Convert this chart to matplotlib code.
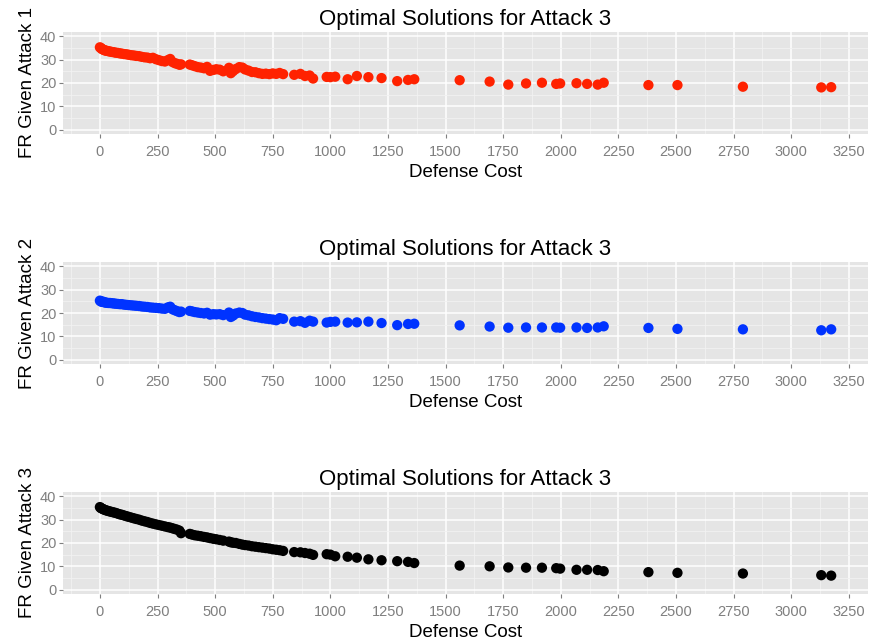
import numpy as np
import matplotlib
matplotlib.use("Agg")
import matplotlib.pyplot as plt
from matplotlib.ticker import MultipleLocator

plt.rcParams['font.family'] = ['Liberation Sans', 'DejaVu Sans']

# defense cost of each optimal solution (shared by the three panels)
cost = [0, 4, 8, 13, 18, 24, 30, 37, 44, 52, 60, 68, 77, 86, 95, 105, 115, 125,
        136, 147, 158, 170, 182, 194, 206, 218, 230, 243, 256, 269, 282, 295,
        305, 315, 325, 335, 345, 352,
        390, 400, 412, 425, 438, 452, 465, 478, 492, 505, 520, 535, 560, 568,
        578, 590, 605, 618, 630, 645, 660, 675, 690, 705, 720, 735, 750, 765,
        780, 795,
        843, 870, 890, 910, 925, 984, 1000, 1021, 1075, 1115, 1165, 1222, 1290,
        1337, 1364,
        1561, 1691, 1772, 1849, 1918, 1980, 1997, 2068, 2114, 2160, 2186, 2380,
        2506, 2790, 3130, 3173]

fr_attack1 = [35.3, 35.0, 34.6, 34.4, 34.1, 33.9, 33.8, 33.6, 33.5, 33.3, 33.2,
              33.0, 32.9, 32.7, 32.6, 32.4, 32.3, 32.1, 31.9, 31.8, 31.6, 31.5,
              31.2, 31.0, 30.9, 30.6, 30.8, 30.2, 29.8, 29.4, 29.2, 29.8, 30.3,
              29.0, 28.5, 28.2, 27.8, 28.0,
              27.9, 27.6, 27.2, 26.8, 26.6, 26.3, 26.9, 25.2, 25.6, 25.9, 25.7,
              25.0, 26.5, 24.2, 25.1, 26.0, 26.8, 26.6, 25.8, 25.3, 24.7, 24.6,
              24.2, 23.9, 24.0, 23.8, 24.1, 23.9, 24.3, 23.8,
              23.5, 23.9, 23.0, 23.2, 21.9, 22.6, 22.5, 22.7, 21.6, 23.0, 22.5,
              22.1, 20.8, 21.3, 21.6,
              21.2, 20.6, 19.3, 19.8, 20.1, 19.6, 19.8, 19.9, 19.6, 19.3, 20.1,
              19.1, 19.1, 18.4, 18.1, 18.2]

fr_attack2 = [25.3, 25.0, 24.8, 24.9, 24.6, 24.5, 24.4, 24.3, 24.3, 24.2, 24.1,
              24.0, 23.9, 23.8, 23.8, 23.6, 23.5, 23.4, 23.3, 23.2, 23.1, 23.0,
              22.8, 22.7, 22.6, 22.4, 22.3, 22.2, 22.1, 21.9, 21.8, 22.4, 22.7,
              21.6, 21.2, 20.8, 20.4, 20.6,
              20.9, 20.7, 20.4, 20.2, 20.0, 19.8, 20.1, 19.3, 19.5, 19.4, 19.5,
              19.1, 20.2, 18.3, 18.9, 19.8, 20.2, 20.0, 19.3, 19.0, 18.6, 18.3,
              18.1, 17.8, 17.6, 17.4, 17.2, 16.9, 17.8, 17.5,
              16.3, 16.5, 15.8, 16.7, 16.3, 15.9, 16.2, 16.3, 15.9, 16.0, 16.3,
              15.7, 14.8, 15.3, 15.4,
              14.7, 14.2, 13.7, 13.8, 13.8, 13.8, 13.7, 13.8, 13.6, 13.8, 14.3,
              13.6, 13.2, 13.0, 12.6, 13.0]

fr_attack3 = [35.4, 35.0, 34.8, 34.6, 34.3, 34.1, 33.9, 33.7, 33.5, 33.3, 33.1,
              32.9, 32.6, 32.3, 32.1, 31.8, 31.5, 31.2, 30.9, 30.6, 30.3, 30.0,
              29.6, 29.3, 29.0, 28.6, 28.3, 28.0, 27.7, 27.4, 27.1, 26.8, 26.6,
              26.3, 26.0, 25.7, 25.3, 24.2,
              23.9, 23.6, 23.3, 23.1, 22.9, 22.6, 22.4, 22.1, 21.8, 21.6, 21.3,
              21.0, 20.6, 20.3, 20.1, 20.0, 19.6, 19.3, 19.1, 18.9, 18.6, 18.4,
              18.2, 18.0, 17.8, 17.6, 17.3, 17.1, 16.9, 16.6,
              16.1, 16.0, 15.7, 15.4, 14.9, 15.2, 15.0, 14.3, 14.1, 13.7, 13.0,
              12.6, 12.2, 11.9, 11.4,
              10.3, 10.0, 9.5, 9.4, 9.4, 9.2, 9.0, 8.5, 8.5, 8.4, 7.9,
              7.5, 7.2, 6.9, 6.2, 6.0]

series = [(fr_attack1, '#FF2200', 'FR Given Attack 1'),
          (fr_attack2, '#0033FF', 'FR Given Attack 2'),
          (fr_attack3, '#000000', 'FR Given Attack 3')]

fig = plt.figure(figsize=(8.7, 6.44), dpi=100)

left, width, height = 0.0728, 0.9246, 0.1593
bottoms = [0.7915, 0.4343, 0.0772]

x = np.array(cost)
span = x.max() - x.min()
xlim = (x.min() - 0.05 * span, x.max() + 0.05 * span)

for (vals, col, ylab), b in zip(series, bottoms):
    ax = fig.add_axes([left, b, width, height])
    ax.set_facecolor('#E5E5E5')
    ax.scatter(cost, vals, s=55, color=col, edgecolors='none', zorder=3)
    ax.set_xlim(*xlim)
    ax.set_ylim(-2, 42)
    ax.xaxis.set_major_locator(MultipleLocator(250))
    ax.xaxis.set_minor_locator(MultipleLocator(125))
    ax.yaxis.set_major_locator(MultipleLocator(10))
    ax.yaxis.set_minor_locator(MultipleLocator(5))
    ax.grid(which='major', color='white', lw=1.1, zorder=0)
    ax.grid(which='minor', color='#F2F2F2', lw=0.6, zorder=0)
    ax.set_axisbelow(True)
    for sp in ax.spines.values():
        sp.set_visible(False)
    ax.tick_params(which='major', colors='#7F7F7F', labelsize=10.5,
                   length=3, width=0.8, pad=5)
    ax.tick_params(which='minor', length=0)
    ax.tick_params(axis='y', pad=2)
    ax.set_title('Optimal Solutions for Attack 3', fontsize=16, pad=5)
    ax.set_xlabel('Defense Cost', fontsize=13.5, labelpad=3)
    ax.set_ylabel(ylab, fontsize=13.5, labelpad=3)

fig.savefig('out.png', dpi=100)
